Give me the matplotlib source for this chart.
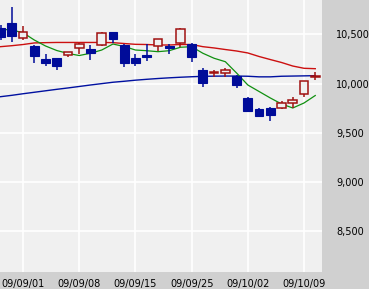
import matplotlib
matplotlib.use("Agg")
import matplotlib.pyplot as plt
from matplotlib.patches import Rectangle
from matplotlib.ticker import FuncFormatter, FixedLocator

dates = ["09/08/28", "09/08/31", "09/09/01", "09/09/02", "09/09/03", "09/09/04", "09/09/07",
         "09/09/08", "09/09/09", "09/09/10", "09/09/11", "09/09/14", "09/09/15", "09/09/16",
         "09/09/17", "09/09/18", "09/09/24", "09/09/25", "09/09/28", "09/09/29", "09/09/30",
         "09/10/01", "09/10/02", "09/10/05", "09/10/06", "09/10/07", "09/10/08", "09/10/09",
         "09/10/13"]
opens = [10563, 10617, 10464, 10383, 10251, 10261, 10291, 10363, 10352, 10393, 10525, 10393,
         10261, 10291, 10383, 10383, 10413, 10403, 10139, 10113, 10108, 10078, 9854, 9742,
         9752, 9752, 9803, 9894, 10067]
highs = [10600, 10780, 10587, 10390, 10302, 10265, 10325, 10413, 10393, 10525, 10530, 10400,
         10302, 10403, 10454, 10403, 10566, 10410, 10159, 10139, 10159, 10088, 9864, 9752,
         9762, 9823, 9864, 10027, 10118]
lows = [10440, 10424, 10444, 10210, 10179, 10139, 10274, 10302, 10240, 10386, 10413, 10169,
        10179, 10230, 10332, 10302, 10376, 10220, 9966, 10067, 10067, 9955, 9711, 9660,
        9620, 9742, 9752, 9864, 10037]
closes = [10471, 10485, 10525, 10281, 10210, 10179, 10322, 10403, 10312, 10515, 10454, 10210,
          10210, 10271, 10454, 10363, 10556, 10271, 10006, 10123, 10139, 9986, 9721, 9670,
          9681, 9803, 9833, 10027, 10072]
ma_short = [10553, 10546, 10518, 10444, 10383, 10337, 10307, 10286, 10309, 10342, 10403, 10378,
            10342, 10335, 10325, 10335, 10370, 10376, 10309, 10258, 10223, 10108, 9986, 9920,
            9854, 9793, 9752, 9803, 9879]
ma_mid = [10376, 10386, 10398, 10414, 10417, 10419, 10419, 10419, 10419, 10419, 10417, 10408,
          10400, 10398, 10393, 10393, 10398, 10398, 10376, 10363, 10347, 10332, 10312, 10276,
          10245, 10215, 10179, 10156, 10152]
ma_long = [9867, 9881, 9897, 9912, 9927, 9942, 9956, 9971, 9986, 10000, 10014, 10024, 10035,
           10044, 10052, 10059, 10065, 10070, 10074, 10076, 10077, 10077, 10075, 10069, 10069,
           10075, 10077, 10079, 10081]
xtick_labels = ["09/09/01", "09/09/08", "09/09/15", "09/09/25", "09/10/02", "09/10/09"]
ytick_values = [8500, 9000, 9500, 10000, 10500]

W, H = 369, 289
fig = plt.figure(figsize=(W / 100, H / 100), dpi=100, facecolor="#d0d0d0")
ax = fig.add_axes([0, 17 / H, 322 / W, 1 - 17 / H])
ax.set_facecolor("#f0f0f0")

x = list(range(len(dates)))
ax.set_xlim(-0.05, 28.6)
ax.set_ylim(8083, 10851)

# grid
tick_pos = [dates.index(d) for d in xtick_labels]
for tp in tick_pos:
    ax.axvline(tp, color="white", lw=1.2, zorder=0)
for yv in ytick_values:
    ax.axhline(yv, color="white", lw=1.2, zorder=0)

ax.plot(x, ma_long, color="#0010a0", lw=1.0, zorder=2)
ax.plot(x, ma_mid, color="#cc1010", lw=1.0, zorder=2)
ax.plot(x, ma_short, color="#109010", lw=0.9, zorder=2)

bw = 0.78
for i in x:
    o, h, l, c = opens[i], highs[i], lows[i], closes[i]
    up = c >= o
    col = "#a01010" if up else "#000c99"
    ax.plot([i, i], [l, h], color=col, lw=1.1, zorder=3, solid_capstyle="butt")
    bottom = min(o, c)
    height = max(abs(c - o), 6)
    if up:
        ax.add_patch(Rectangle((i - bw / 2, bottom), bw, height, facecolor="#f0f0f0",
                               edgecolor=col, lw=1.1, zorder=4))
    else:
        ax.add_patch(Rectangle((i - bw / 2, bottom), bw, height, facecolor=col,
                               edgecolor=col, lw=0.8, zorder=4))

for s in ax.spines.values():
    s.set_visible(False)

ax.xaxis.set_major_locator(FixedLocator(tick_pos))
ax.set_xticklabels(xtick_labels)
ax.yaxis.set_major_locator(FixedLocator(ytick_values))
ax.yaxis.set_major_formatter(FuncFormatter(lambda v, p: f"{int(v):,}"))
ax.yaxis.tick_right()
ax.tick_params(axis="both", length=0, labelsize=7, colors="black")
ax.tick_params(axis="y", pad=10)
ax.tick_params(axis="x", pad=5)

fig.savefig("out.png", dpi=100, facecolor=fig.get_facecolor())
